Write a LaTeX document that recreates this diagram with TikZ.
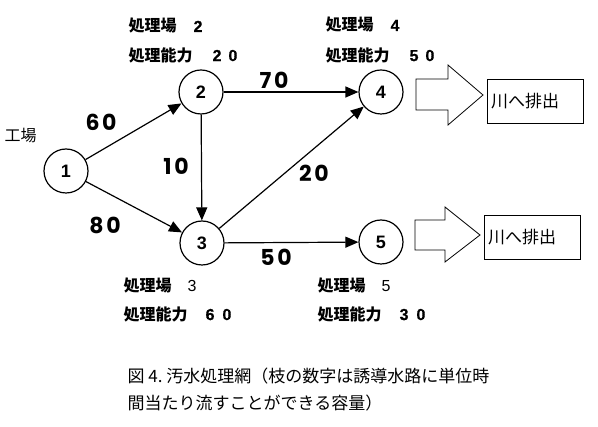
\documentclass[tikz,border=0pt]{standalone}
\usepackage{fontspec}
\newfontfamily\jpf{Noto Sans CJK JP}
\newfontfamily\numf{Poppins}[LetterSpace=12]
\newfontfamily\ndf{Liberation Sans}
\newfontfamily\bdf{Liberation Sans Bold}[FakeBold=0.6]
\usetikzlibrary{arrows.meta}
\newcommand\sdig[1]{{\bdf\fontsize{16}{16}\selectfont #1}}
\newcommand\sdigm[1]{{\ndf\mdseries\fontsize{16}{16}\selectfont #1}}
\begin{document}
\begin{tikzpicture}[x=1pt,y=-1pt,line width=1.2pt,
  station/.style={circle,draw,minimum size=44pt,inner sep=0pt,font=\ndf\bfseries\fontsize{18}{18}\selectfont},
  flow/.style={-{Triangle[length=13pt,width=11pt]}},
  elabel/.style={font=\numf\bfseries\fontsize{22}{22}\selectfont},
  info/.style={anchor=west,inner sep=0pt,font=\jpf\bfseries\fontsize{16}{16}\selectfont},
  plain/.style={anchor=west,inner sep=0pt,font=\jpf\fontsize{16}{16}\selectfont},
  outbox/.style={draw,line width=0.8pt,minimum height=44pt,text width=88pt,inner sep=4pt,align=left,font=\jpf\fontsize{17}{17}\selectfont},
  blockarrow/.style={draw,line width=0.8pt},
  caption/.style={anchor=west,inner sep=0pt,font=\jpf\fontsize{17}{17}\selectfont}
]
\useasboundingbox (0,0) rectangle (598,427);

% stations
\node[station] (n1) at (66,171) {1};
\node[station] (n2) at (201,92) {2};
\node[station] (n3) at (202,243) {3};
\node[station] (n4) at (381,92) {4};
\node[station] (n5) at (381,242) {5};

% connectors
\draw[flow] (n1) -- (n2);
\draw[flow] (n1) -- (n3);
\draw[flow] (n2) -- (n3);
\draw[flow] (n2) -- (n4);
\draw[flow] (n3) -- (n4);
\draw[flow] (n3) -- (n5);

% edge labels
\node[elabel] (l60) at (101,122) {60};
\node[elabel] (l70) at (274,80) {70};
\node[elabel] (l10) at (176,166) {10};
\node[elabel] (l80) at (105,225) {80};
\node[elabel] (l20) at (314,173) {20};
\node[elabel] (l50) at (276,257) {50};

% station info
\node[plain] (fac) at (4,136) {工場};
\node[info] (i2a) at (128,26) {処理場\hspace{17pt}\sdig{2}};
\node[info] (i2b) at (128,55) {処理能力\hspace{20pt}\sdig{2\hspace{7pt}0}};
\node[info] (i4a) at (325,25) {処理場\hspace{17pt}\sdig{4}};
\node[info] (i4b) at (325,55) {処理能力\hspace{20pt}\sdig{5\hspace{7pt}0}};
\node[info] (i3a) at (123,286) {処理場\hspace{16pt}\sdigm{3}};
\node[info] (i3b) at (123,314) {処理能力\hspace{18pt}\sdig{6\hspace{8pt}0}};
\node[info] (i5a) at (317,286) {処理場\hspace{16pt}\sdigm{5}};
\node[info] (i5b) at (317,314) {処理能力\hspace{18pt}\sdig{3\hspace{8pt}0}};

% block arrows
\draw[blockarrow] (416,79) -- (448,79) -- (448,65) -- (483,95) -- (448,125) -- (448,110) -- (416,110) -- cycle;
\draw[blockarrow] (415,220) -- (445,220) -- (445,207) -- (480,235) -- (445,262) -- (445,250) -- (415,250) -- cycle;

% outlet boxes
\node[outbox] (r1) at (535,101) {川へ排出};
\node[outbox] (r2) at (532,237) {川へ排出};

% caption
\node[caption] (c1) at (127,376) {図 4.\ 汚水処理網（枝の数字は誘導水路に単位時};
\node[caption] (c2) at (127,403) {間当たり流すことができる容量）};
\end{tikzpicture}
\end{document}
